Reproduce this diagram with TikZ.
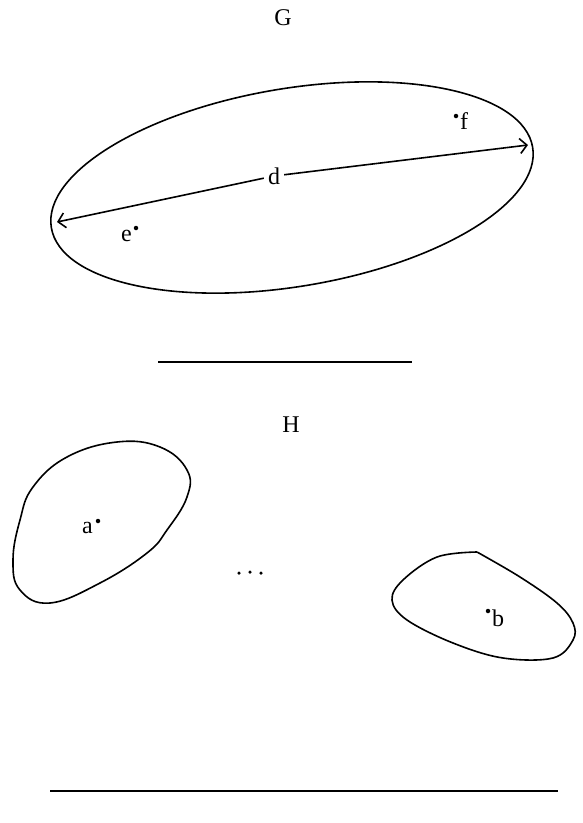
\documentclass[tikz,border=0pt]{standalone}
\usepackage{fontspec}
\setmainfont{Liberation Serif}
\usetikzlibrary{arrows.meta}
\begin{document}
\begin{tikzpicture}[x=1pt,y=-1pt,
  outline/.style={line width=1.6pt, line join=round},
  lbl/.style={font=\fontsize{24}{28}\selectfont, inner sep=0pt},
  pt/.style={circle, fill=black, inner sep=0pt, minimum size=4.5pt}]
\useasboundingbox (0,0) rectangle (583,823);
% G
\node[lbl] (G) at (283,18) {G};
\coordinate (gc) at (292,187.5);
\draw[outline, rotate around={9.5:(gc)}] (gc) ellipse [x radius=244, y radius=99];
\coordinate (dl) at (57,222);
\coordinate (dr) at (528,145);
\node[lbl, fill=white, inner sep=4pt] (d) at (274,176) {d};
\draw[line width=1.6pt, {Straight Barb[length=7pt,width=15pt]}-] (dl) -- (d);
\draw[line width=1.6pt, -{Straight Barb[length=7pt,width=15pt]}] (d) -- (dr);
\node[pt] (fp) at (456,116) {};
\node[lbl, anchor=west] (f) at (460,121) {f};
\node[pt] (ep) at (136,228) {};
\node[lbl, anchor=east] (e) at (132,236) {e};
\coordinate (l1a) at (158,362);
\coordinate (l1b) at (412,362);
\draw[line width=1.3pt] (l1a) -- (l1b);
% H
\node[lbl] (H) at (291,425) {H};
\draw[outline] plot[smooth cycle, tension=0.7] coordinates {
 (33,487) (67,457) (117,442) (160,447) (187,470) (187,497) (167,530)
 (147,553) (100,583) (50,603) (20,590) (13,560) (20,520)};
\node[pt] (ap) at (98,521) {};
\node[lbl, anchor=east] (a) at (93,528) {a};
\node[pt, minimum size=3.5pt] (d1) at (239,573) {};
\node[pt, minimum size=3.5pt] (d2) at (250,572) {};
\node[pt, minimum size=3.5pt] (d3) at (261,573) {};
\draw[outline] plot[smooth, tension=0.6] coordinates {
 (477,552) (520,577) (557,603) (573,623) (573,640) (553,658) (503,658)
 (453,643) (407,620) (392,600) (403,580) (437,557) (477,552)};
\node[pt] (bp) at (488,611) {};
\node[lbl, anchor=west] (b) at (492,618) {b};
\coordinate (l2a) at (50,791);
\coordinate (l2b) at (558,791);
\draw[line width=1.3pt] (l2a) -- (l2b);
\end{tikzpicture}
\end{document}
